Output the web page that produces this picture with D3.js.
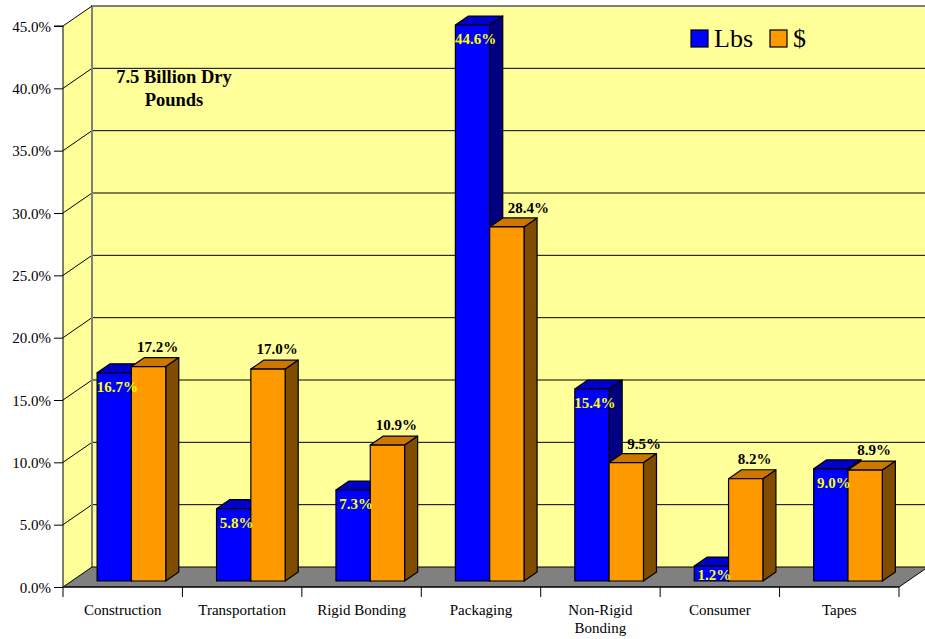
<!DOCTYPE html>
<html>
<head>
<meta charset="utf-8">
<script src="https://cdn.jsdelivr.net/npm/d3@7"></script>
<style>
  body { margin: 0; background: #fff; }
</style>
</head>
<body>
<div id="chart"></div>
<script>
// donnees
var categories = ["Construction", "Transportation", "Rigid Bonding", "Packaging", "Non-Rigid Bonding", "Consumer", "Tapes"];
var lbsValues = [16.7, 5.8, 7.3, 44.6, 15.4, 1.2, 9.0];
var dollarValues = [17.2, 17.0, 10.9, 28.4, 9.5, 8.2, 8.9];
var seriesNames = ["Lbs", "$"];
var yTicks = [0, 5, 10, 15, 20, 25, 30, 35, 40, 45];

var width = 925, height = 639;
var margin = { top: 26, bottom: 52, left: 63, right: 26 };
var fontFamily = "'Liberation Serif', 'Times New Roman', Times, 'DejaVu Serif', serif";

// profondeur 3D (decalage du mur du fond)
var depth = { dx: 29, dy: -20 };
var barZ0 = 0.3, barZ1 = 0.75;

var colors = {
  "Lbs": { front: "#0000ff", top: "#0000c8", side: "#000080" },
  "$":   { front: "#ff9900", top: "#cc7700", side: "#7f4c00" }
};

var svg = d3.select("#chart").append("svg")
  .attr("width", width)
  .attr("height", height)
  .style("display", "block")
  .attr("font-family", fontFamily);

// Echelles
var x0 = margin.left, x1 = width - margin.right;
var y0 = height - margin.bottom, y1 = margin.top;
var xscale = d3.scaleBand().domain(categories).range([x0, x1]);
var xsub = d3.scaleBand().domain(seriesNames).range([0, xscale.bandwidth()]).paddingInner(0).paddingOuter(0.74);
var yscale = d3.scaleLinear().domain([0, 45]).range([y0, y1]);

function off(p, z) { return [p[0] + depth.dx * z, p[1] + depth.dy * z]; }
function poly(pts) { return pts.map(p => p.join(",")).join(" "); }

// mur du fond
svg.append("polygon")
  .attr("points", poly([off([x0, y1], 1), off([x1 + 10, y1], 1), off([x1 + 10, y0], 1), off([x0, y0], 1)]))
  .attr("fill", "#ffff99");
// mur gauche
svg.append("polygon")
  .attr("points", poly([[x0, y1], off([x0, y1], 1), off([x0, y0], 1), [x0, y0]]))
  .attr("fill", "#ffff99");

// grille
var grid = svg.append("g");
yTicks.forEach(function(t) {
  var y = yscale(t);
  if (t > 0 && t < 45) {
    grid.append("line")
      .attr("x1", x0).attr("y1", y)
      .attr("x2", x0 + depth.dx).attr("y2", y + depth.dy)
      .attr("stroke", "#000").attr("stroke-width", 1);
    grid.append("line")
      .attr("x1", x0 + depth.dx).attr("y1", y + depth.dy)
      .attr("x2", width).attr("y2", y + depth.dy)
      .attr("stroke", "#000").attr("stroke-width", 1);
  }
});
// bords gris du mur
svg.append("polyline")
  .attr("points", poly([off([x0, y0], 1), off([x0, y1], 1), [width, y1 + depth.dy]]))
  .attr("fill", "none").attr("stroke", "#808080").attr("stroke-width", 2);
svg.append("line")
  .attr("x1", x0).attr("y1", y1).attr("x2", x0 + depth.dx).attr("y2", y1 + depth.dy)
  .attr("stroke", "#000");

// sol
svg.append("polygon")
  .attr("points", poly([[x0, y0], off([x0, y0], 1), off([x1, y0], 1), [x1, y0]]))
  .attr("fill", "#808080").attr("stroke", "#000").attr("stroke-width", 1);

// Axes
var yaxis = d3.axisLeft(yscale).tickValues(yTicks).tickSize(9).tickPadding(3)
  .tickFormat(d => d3.format(".1f")(d) + "%");
var g_yaxis = svg.append("g").attr("transform", `translate(${x0},0)`).call(yaxis)
  .attr("font-family", fontFamily).attr("font-size", 15);
g_yaxis.select(".domain").attr("d", `M-9,${y1}H0V${y0}`).attr("stroke", "#000");
g_yaxis.selectAll(".tick line").attr("stroke", "#000");
g_yaxis.selectAll("text").attr("fill", "#000").attr("dy", "0.35em");

var xaxis = d3.axisBottom(xscale).tickSize(0).tickPadding(12).tickFormat("");
var g_xaxis = svg.append("g").attr("transform", `translate(0,${y0})`).call(xaxis);
g_xaxis.select(".domain").attr("d", `M${x0},0H${x1}`).attr("stroke", "#000");
// graduations entre categories
var bounds = categories.map(c => xscale(c)).concat([x1]);
g_xaxis.selectAll(".sep").data(bounds).join("line")
  .attr("class", "sep")
  .attr("x1", d => d).attr("x2", d => d)
  .attr("y1", 0).attr("y2", 10)
  .attr("stroke", "#000");
// libelles des categories
var catLabels = { "Non-Rigid Bonding": ["Non-Rigid", "Bonding"] };
categories.forEach(function(c) {
  var lines = catLabels[c] || [c];
  var cx = xscale(c) + xscale.bandwidth() / 2;
  var t = svg.append("text")
    .attr("x", cx)
    .attr("y", y0 + 28)
    .attr("text-anchor", "middle")
    .attr("font-size", 15)
    .attr("fill", "#000");
  lines.forEach(function(l, i) {
    t.append("tspan").attr("x", cx).attr("dy", i == 0 ? 0 : 18).text(l);
  });
});

// barres 3D
var bars = [];
categories.forEach(function(c, i) {
  bars.push({ cat: c, series: "Lbs", value: lbsValues[i], other: dollarValues[i] });
  bars.push({ cat: c, series: "$", value: dollarValues[i], other: lbsValues[i] });
});

var gBars = svg.append("g");
bars.forEach(function(d) {
  var xl = xscale(d.cat) + xsub(d.series) + depth.dx * barZ0;
  var xr = xl + xsub.bandwidth();
  var yb = yscale(0) + depth.dy * barZ0;
  var yt = yscale(d.value) + depth.dy * barZ0;
  var dz = barZ1 - barZ0;
  var col = colors[d.series];
  var g = gBars.append("g").attr("stroke", "#000").attr("stroke-width", 1.2).attr("stroke-linejoin", "round");
  g.append("polygon")
    .attr("points", poly([[xr, yt], off([xr, yt], dz), off([xr, yb], dz), [xr, yb]]))
    .attr("fill", col.side);
  g.append("polygon")
    .attr("points", poly([[xl, yt], off([xl, yt], dz), off([xr, yt], dz), [xr, yt]]))
    .attr("fill", col.top);
  g.append("rect")
    .attr("x", xl).attr("y", yt)
    .attr("width", xr - xl).attr("height", yb - yt)
    .attr("fill", col.front);
  d.xm = (xl + xr) / 2;
  d.yt = yt;
  d.yb = yb;
});

// etiquettes de valeurs
bars.forEach(function(d) {
  var lbl = svg.append("text")
    .attr("font-size", 15)
    .attr("font-weight", "bold")
    .text(d3.format(".1f")(d.value) + "%");
  if (d.series == "Lbs") {
    lbl.attr("x", d.xm + 3).attr("text-anchor", "middle")
      .attr("y", Math.min(d.yt + 19, d.yb - 1)).attr("fill", "#ffff00");
  } else if (d.other > d.value + 1) {
    // decale a droite pour ne pas chevaucher la barre bleue
    lbl.attr("x", d.xm + 1).attr("text-anchor", "start")
      .attr("y", d.yt - 14).attr("fill", "#000");
  } else {
    lbl.attr("x", d.xm + 9).attr("text-anchor", "middle")
      .attr("y", d.yt - 15).attr("fill", "#000");
  }
});

// annotation
svg.append("text")
  .attr("x", 174).attr("y", 83)
  .attr("text-anchor", "middle")
  .attr("font-size", 18.5).attr("font-weight", "bold")
  .selectAll("tspan").data(["7.5 Billion Dry", "Pounds"]).join("tspan")
  .attr("x", 174).attr("dy", (d, i) => i == 0 ? 0 : 23)
  .text(d => d);

// legende
var legendX = [691, 770];
seriesNames.forEach(function(s, i) {
  svg.append("rect")
    .attr("x", legendX[i]).attr("y", 30)
    .attr("width", 17).attr("height", 17)
    .attr("fill", colors[s].front).attr("stroke", "#000").attr("stroke-width", 1.2);
  svg.append("text")
    .attr("x", legendX[i] + 23).attr("y", 47)
    .attr("font-size", 26).attr("fill", "#000")
    .text(s);
});
</script>
</body>
</html>
